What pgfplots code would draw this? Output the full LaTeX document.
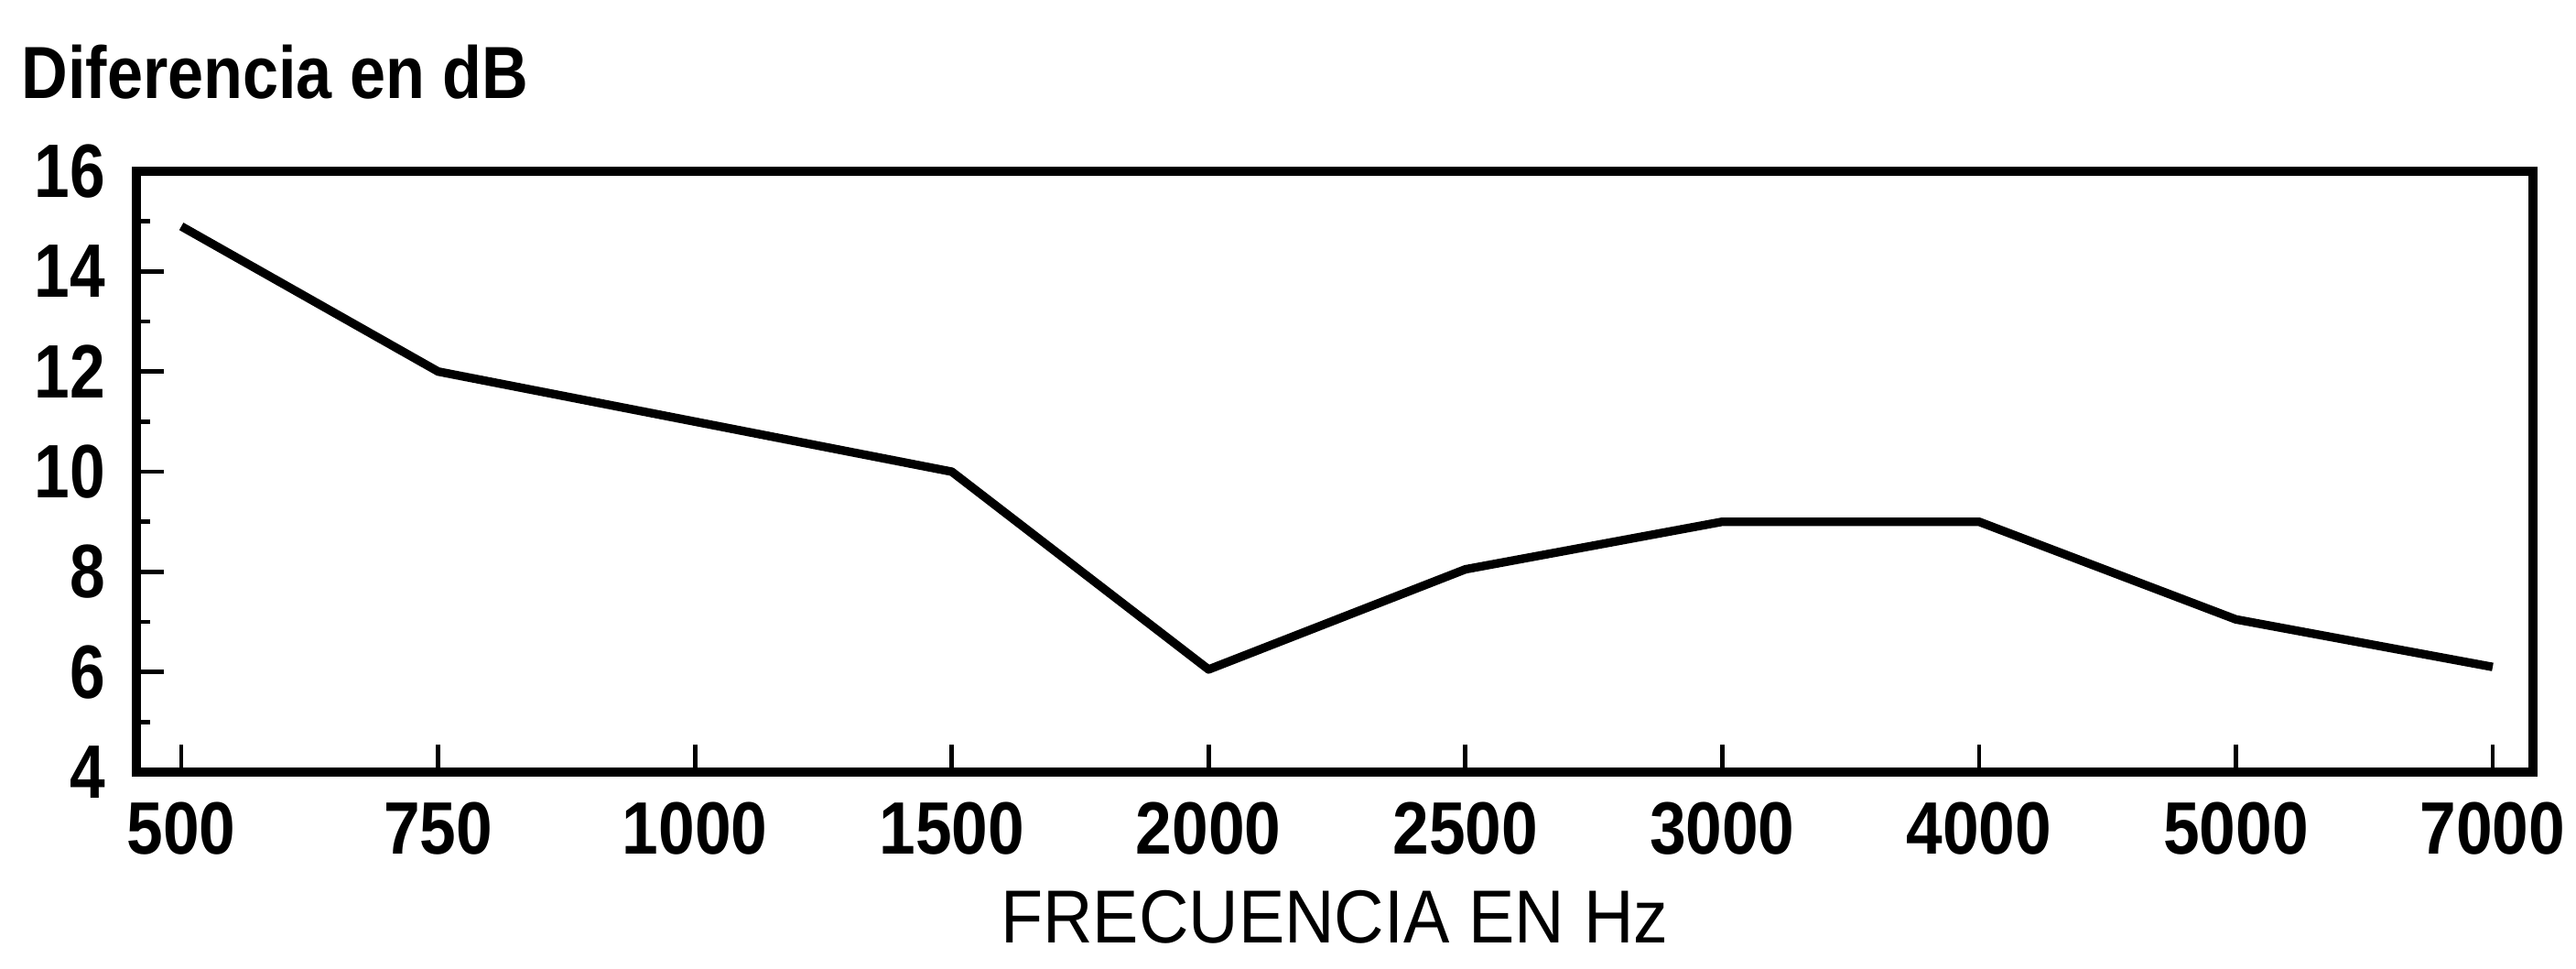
\documentclass[border=0pt]{standalone}
\usepackage{fontspec}
\setmainfont{Liberation Sans}
\usepackage{pgfplots}
\pgfplotsset{compat=1.18}
\begin{document}
\begin{tikzpicture}
\begin{axis}[
  at={(0,0)}, anchor=south west,
  scale only axis, width=392.7pt, height=98.4pt,
  xmin=-0.175, xmax=9.157, ymin=4, ymax=16,
  xtick={0,1,2,3,4,5,6,7,8,9},
  xticklabels={500,750,1000,1500,2000,2500,3000,4000,5000,7000},
  ytick={4,6,8,10,12,14,16},
  minor ytick={5,7,9,11,13,15},
  /pgf/number format/assume math mode=true,
  axis line style={line width=1.4pt},
  tick style={black, line width=0.7pt},
  tick align=inside,
  xtick pos=bottom, ytick pos=left,
  major tick length=4.5pt, minor tick length=2.2pt,
  every axis title shift=0pt,
  xticklabel style={font=\fontsize{12.15}{14}\selectfont\bfseries, xscale=0.88, anchor=north, inner sep=0pt, yshift=-4.8pt},
  yticklabel style={font=\fontsize{12.4}{14}\selectfont\bfseries, xscale=0.84, anchor=east, inner sep=0pt, xshift=-5.85pt},
  title={Diferencia en dB},
  title style={at={(axis description cs:0,1)}, anchor=west, inner sep=0pt, xshift=-19pt, yshift=16.2pt, font=\fontsize{12.1}{14}\selectfont\bfseries, xscale=0.87},
  xlabel={FRECUENCIA EN Hz},
  xlabel style={at={(axis description cs:0.5,0)}, anchor=center, inner sep=0pt, yshift=-23.8pt, font=\fontsize{12.3}{14}\selectfont, xscale=0.92},
]
\addplot[black, line width=1.4pt, line join=round] coordinates {
  (0,14.9) (1,12) (2,11) (3,10) (4,6.05) (5,8.05) (6,9) (7,9) (8,7.05) (9,6.1)
};
\end{axis}
\pgfresetboundingbox
\path[use as bounding box] (-22.35pt,-32.1pt) rectangle (399.75pt,126.45pt);
\end{tikzpicture}
\end{document}
